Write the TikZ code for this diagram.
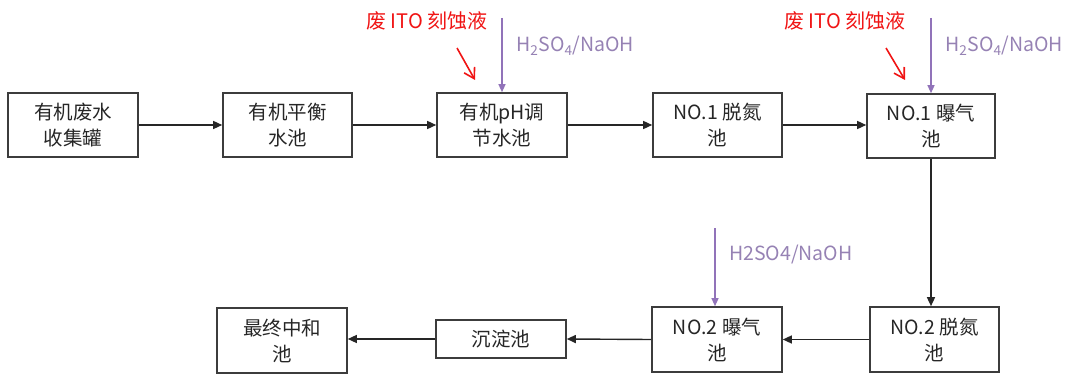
\documentclass[tikz,border=0pt]{standalone}
\usepackage{fontspec}
\setmainfont{Noto Sans CJK SC}
\usetikzlibrary{arrows.meta}
\definecolor{boxline}{RGB}{60,60,60}
\definecolor{purp}{RGB}{145,115,185}
\definecolor{purptext}{RGB}{150,130,180}
\definecolor{redc}{RGB}{240,20,20}
\tikzset{
  pbox/.style={draw=boxline, line width=1.6pt, align=center, inner sep=0pt,
    font=\fontsize{19.5}{26}\selectfont, text=black!85},
  flow/.style={-{Triangle[length=9pt,width=8pt]}, line width=1.4pt, draw=black!85},
  acid/.style={-{Triangle[length=8pt,width=7pt]}, line width=1.2pt, draw=purp},
  acidlbl/.style={text=purptext, font=\fontsize{19.5}{20}\selectfont, anchor=west, inner sep=0pt},
  redlbl/.style={text=redc, font=\fontsize{20}{22}\selectfont, anchor=west, inner sep=0pt},
  redarr/.style={-{Straight Barb[length=10pt,width=12pt]}, line width=1.6pt, draw=redc}
}
\begin{document}
\begin{tikzpicture}[x=1pt,y=-1pt]
\useasboundingbox (0,0) rectangle (1070,374);
% top row
\node[pbox, minimum width=130, minimum height=64] (b1) at (73,125) {有机废水\\收集罐};
\node[pbox, minimum width=129, minimum height=64] (b2) at (287.5,125) {有机平衡\\水池};
\node[pbox, minimum width=130, minimum height=64] (b3) at (502,125) {有机pH调\\节水池};
\node[pbox, minimum width=129, minimum height=64] (b4) at (717.5,125) {NO.1 脱氮\\池};
\node[pbox, minimum width=128, minimum height=64] (b5) at (931,126) {NO.1 曝气\\池};
% bottom row
\node[pbox, minimum width=129, minimum height=65] (b6) at (934.5,339.5) {NO.2 脱氮\\池};
\node[pbox, minimum width=130, minimum height=65] (b7) at (717,339.5) {NO.2 曝气\\池};
\node[pbox, minimum width=130, minimum height=38] (b8) at (501,339) {沉淀池};
\node[pbox, minimum width=130, minimum height=65] (b9) at (282,340.5) {最终中和\\池};
% flow arrows
\draw[flow] (b1.east) -- (b2.west);
\draw[flow] (b2.east) -- (b3.west);
\draw[flow] (b3.east) -- (b4.west |- b3.east);
\draw[flow] (b4.east) -- (b5.west |- b4.east);
\draw[flow] (b5.south) -- (b5.south |- b6.north);
\draw[flow] (b6.west) -- (b7.east);
\draw[flow] (b7.west) -- (b8.east);
\draw[flow] (b8.west) -- (b9.east |- b8.west);
% acid dosing
\coordinate (p1) at (502,18);
\coordinate (p2) at (931,18);
\coordinate (p3) at (715,228);
\draw[acid] (p1) -- (b3.north);
\draw[acid] (p2) -- (b5.north);
\draw[acid] (p3) -- (p3 |- b7.north);
\node[acidlbl] (l1) at (516,46) {H\textsubscript{2}SO\textsubscript{4}/NaOH};
\node[acidlbl] (l2) at (945,46) {H\textsubscript{2}SO\textsubscript{4}/NaOH};
\node[acidlbl] (l3) at (729,255) {H2SO4/NaOH};
% red labels
\node[redlbl] (r1) at (366,21) {废 ITO 刻蚀液};
\node[redlbl] (r2) at (784,21) {废 ITO 刻蚀液};
\coordinate (r1s) at (457,48);
\coordinate (r1e) at (475,80);
\coordinate (r2s) at (886,48);
\coordinate (r2e) at (905,80);
\draw[redarr] (r1s) -- (r1e);
\draw[redarr] (r2s) -- (r2e);
\end{tikzpicture}
\end{document}
